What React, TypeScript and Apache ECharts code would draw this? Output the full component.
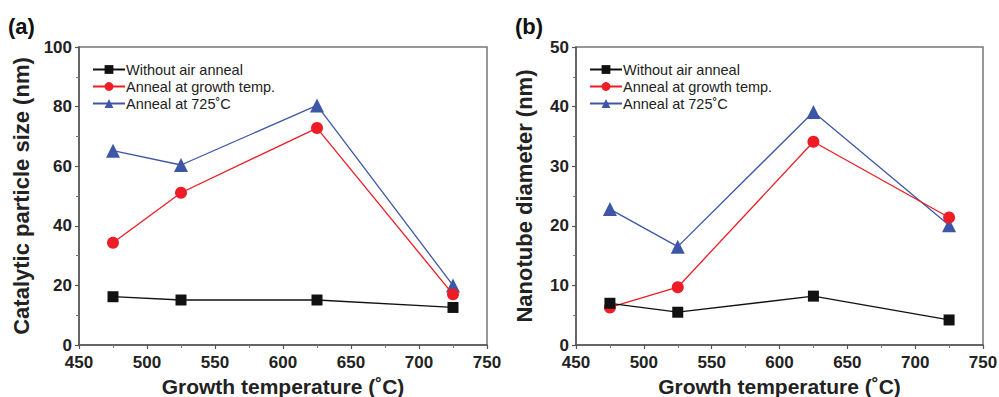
import React, { useEffect, useRef } from "react";
import * as echarts from "echarts";

const temps = [475, 525, 625, 725];
const names = ["Without air anneal", "Anneal at growth temp.", "Anneal at 725˚C"];
const sizeNoAnneal = [16.2, 15.1, 15.1, 12.6];
const sizeGrowth = [34.3, 51.1, 72.8, 17.0];
const size725 = [65.2, 60.4, 80.4, 20.0];
const diamNoAnneal = [7.0, 5.5, 8.2, 4.2];
const diamGrowth = [6.3, 9.7, 34.1, 21.4];
const diam725 = [22.8, 16.5, 39.1, 20.1];

const colors = ["#111111", "#ee1c25", "#3d57a6"];
const symbols = ["rect", "circle", "triangle"];
const symbolSizes = [11, 12, 14];

const FONT = "Liberation Sans, Arial, sans-serif";

export default function App() {
  const ref = useRef<HTMLDivElement>(null);
  useEffect(() => {
    if (!ref.current) return;
    const chart = echarts.init(ref.current, undefined, { renderer: "svg" });
    const mkSeries = (vals: number[], i: number, gi: number) => ({
      name: names[i],
      type: "line",
      xAxisIndex: gi,
      yAxisIndex: gi,
      data: temps.map((t, k) => [t, vals[k]]),
      symbol: symbols[i],
      symbolSize: symbolSizes[i],
      lineStyle: { color: colors[i], width: 1.3 },
      itemStyle: { color: colors[i] },
      z: 3 - i + 2,
    });
    const axisCommon = {
      axisLine: { show: true, lineStyle: { color: "#555", width: 1.5 } },
      axisTick: { show: true, inside: false, length: 4, lineStyle: { color: "#555", width: 1.2 } },
      minorTick: { show: true, splitNumber: 2, length: 3, lineStyle: { color: "#777", width: 1 } },
      splitLine: { show: false },
      nameTextStyle: { color: "#222", fontWeight: "bold", fontSize: 22, fontFamily: FONT },
    };
    const labelStyle = { color: "#222", fontWeight: "bold", fontSize: 17, fontFamily: FONT };
    const xAx = (gi: number) => ({
      ...axisCommon,
      type: "value",
      gridIndex: gi,
      min: 450,
      max: 750,
      interval: 50,
      axisLabel: { ...labelStyle, margin: 9 },
      name: "Growth temperature (˚C)",
      nameLocation: "middle",
      nameGap: 24,
      nameTextStyle: { color: "#222", fontWeight: "bold", fontSize: 21, fontFamily: FONT },
    });
    const legend = (left: number) => ({
      orient: "vertical",
      left,
      top: 57,
      itemWidth: 32,
      itemHeight: 11,
      itemGap: 2,
      data: names,
      textStyle: { fontSize: 14.5, color: "#222", fontFamily: FONT, padding: [0, 0, 0, -4] },
    });
    const gridBase = {
      top: 47,
      bottom: 52,
      show: true,
      borderColor: "#777",
      borderWidth: 1.5,
      containLabel: false,
      outerBoundsMode: "none",
    };
    chart.setOption({
      animation: false,
      backgroundColor: "#fff",
      grid: [
        { ...gridBase, left: 79, right: 512 },
        { ...gridBase, left: 576, right: 16 },
      ],
      legend: [legend(87), legend(584)],
      xAxis: [xAx(0), xAx(1)],
      yAxis: [
        {
          ...axisCommon,
          type: "value",
          gridIndex: 0,
          min: 0,
          max: 100,
          interval: 20,
          axisLabel: { ...labelStyle, margin: 7 },
          name: "Catalytic particle size (nm)",
          nameLocation: "middle",
          nameGap: 47,
        },
        {
          ...axisCommon,
          type: "value",
          gridIndex: 1,
          min: 0,
          max: 50,
          interval: 10,
          axisLabel: { ...labelStyle, margin: 7 },
          name: "Nanotube diameter (nm)",
          nameLocation: "middle",
          nameGap: 41,
        },
      ],
      graphic: [
        { type: "text", left: 8, top: 15, style: { text: "(a)", fontSize: 22, fontWeight: "bold", fontFamily: FONT, fill: "#111" } },
        { type: "text", left: 515, top: 15, style: { text: "(b)", fontSize: 22, fontWeight: "bold", fontFamily: FONT, fill: "#111" } },
      ],
      series: [
        mkSeries(sizeNoAnneal, 0, 0),
        mkSeries(sizeGrowth, 1, 0),
        mkSeries(size725, 2, 0),
        mkSeries(diamNoAnneal, 0, 1),
        mkSeries(diamGrowth, 1, 1),
        mkSeries(diam725, 2, 1),
      ],
    });
    return () => chart.dispose();
  }, []);
  return <div ref={ref} style={{ width: 999, height: 397, position: "absolute", left: 0, top: 0 }} />;
}
